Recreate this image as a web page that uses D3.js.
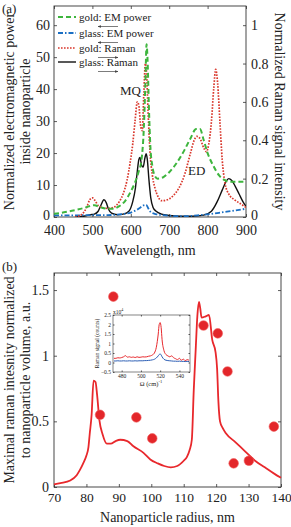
<!DOCTYPE html>
<html><head><meta charset="utf-8">
<script src="https://cdn.jsdelivr.net/npm/d3@7/dist/d3.min.js"></script>
<style>
body{margin:0;background:#fff}
text{font-family:"Liberation Serif","Times New Roman",serif;fill:#222}
</style>
</head><body>
<svg id="c" width="291" height="527"></svg>
<script>
// ---------- Panel (a) data ----------
const wlTicks = [400, 500, 600, 700, 800, 900];
const emTicks = [0, 10, 20, 30, 40, 50, 60];
const ramanTicks = [0, 0.2, 0.4, 0.6, 0.8, 1];

const wlGoldEM = [400,420,440,460,480,495,505,520,540,555,570,585,600,610,620,628,634,638,641,644,647,651,656,662,670,685,700,720,740,755,770,780,790,800,815,830,845,860,880,900];
const goldEM   = [1.0,1.3,1.8,2.3,2.9,3.5,3.7,3.1,2.6,2.6,3.4,5.0,8.0,10.5,14,18,28,42,54,48,35,22,16,13,12,12.5,14,17,21,24.5,27.5,27.5,24,20,16,13,11.5,11,11,11];

const wlGlassEM = [400,450,500,540,570,600,615,625,632,640,645,652,665,690,720,750,780,810,840,870,900];
const glassEM   = [0.5,0.5,0.6,0.6,0.8,1.4,2.2,3.0,3.6,3.8,2.8,1.5,0.9,0.5,0.25,0.3,0.6,1.0,1.5,2.0,2.6];

const wlGoldRaman = [455,470,485,493,500,507,515,525,540,555,570,580,590,598,605,611,617,621,626,630,634,638,641,645,650,656,663,670,680,695,710,725,740,755,765,772,780,790,797,803,810,816,821,826,832,838,845,855,870,885,900];
const goldRaman   = [0,0.01,0.05,0.09,0.1,0.085,0.06,0.05,0.045,0.05,0.08,0.12,0.19,0.28,0.38,0.5,0.6,0.58,0.47,0.45,0.65,0.8,0.75,0.55,0.34,0.22,0.15,0.11,0.085,0.09,0.11,0.15,0.22,0.33,0.4,0.42,0.41,0.36,0.34,0.38,0.5,0.67,0.77,0.7,0.5,0.3,0.18,0.12,0.09,0.07,0.05];

const wlGlassRaman = [455,480,495,505,515,522,530,536,542,550,565,580,595,605,612,617,621,624,628,632,637,640,643,647,652,658,666,680,700,730,760,790,810,825,838,848,855,863,872,882,892,900];
const glassRaman   = [0,0.005,0.012,0.015,0.03,0.06,0.09,0.075,0.04,0.02,0.012,0.015,0.03,0.08,0.15,0.24,0.3,0.31,0.27,0.26,0.31,0.33,0.3,0.2,0.1,0.05,0.03,0.015,0.008,0.004,0.004,0.01,0.03,0.08,0.14,0.185,0.2,0.19,0.16,0.12,0.08,0.055];

// ---------- Panel (b) data ----------
const radiusTicks = [70, 80, 90, 100, 110, 120, 130, 140];
const intensityTicks = [0, 0.5, 1, 1.5];
const radiusCurve = [70,72,75,77,78,79,80,80.6,81,81.6,82.2,82.8,83.3,84,85,86.3,87.5,89,90.4,92.6,94.5,97.6,99.7,102,104,106,108,110,111,111.8,112.5,113.1,113.7,114.2,114.7,115.1,115.5,116.8,117.8,118.8,119.8,120.3,120.7,121.2,122,123,126,129,132,135,138,140];
const intensityCurve = [0.02,0.03,0.05,0.09,0.13,0.18,0.24,0.3,0.4,0.55,0.81,0.8,0.7,0.51,0.4,0.33,0.33,0.35,0.36,0.35,0.31,0.26,0.21,0.18,0.16,0.15,0.16,0.2,0.23,0.28,0.36,0.74,1.05,1.3,1.41,1.36,1.29,1.3,1.31,1.12,1.03,0.9,0.65,0.5,0.45,0.41,0.34,0.27,0.2,0.15,0.1,0.07];
const radiusDots = [84.2, 88.3, 95.4, 100.3, 116.1, 120.5, 123.5, 125.4, 130.1, 137.8];
const intensityDots = [0.55, 1.45, 0.53, 0.37, 1.23, 1.17, 0.88, 0.18, 0.2, 0.46];

// ---------- Inset data ----------
const shiftTicks = [480, 500, 520, 540];
const countTicks = [-0.5, 0, 0.5, 1, 1.5, 2, 2.5];
const shift = [472,474,476,478,480,482,484,486,488,490,492,494,496,498,500,502,504,506,508,510,512,514,516,518,519,520,521,522,524,526,528,530,532,534,536,538,540,542,544,546,548,550];
const countsGold = [0.22,0.22,0.25,0.24,0.26,0.3,0.36,0.28,0.3,0.27,0.29,0.26,0.3,0.27,0.28,0.3,0.29,0.3,0.33,0.35,0.4,0.5,0.8,1.5,2.0,2.1,1.85,1.2,0.62,0.42,0.35,0.3,0.35,0.25,0.2,0.15,0.22,0.12,0.18,0.1,0.15,0.12];
const countsGlass = [0.08,0.08,0.09,0.08,0.08,0.09,0.08,0.08,0.09,0.08,0.08,0.09,0.08,0.09,0.09,0.09,0.1,0.1,0.11,0.12,0.14,0.17,0.24,0.35,0.42,0.45,0.4,0.3,0.17,0.12,0.1,0.09,0.08,0.07,0.07,0.06,0.07,0.06,0.06,0.05,0.06,0.05];

// ---------- Drawing ----------
const svg = d3.select("#c");
const zip = (xs, ys) => xs.map((x, i) => [x, ys[i]]);
const axisColor = "#333";

function styleAxis(g, fs) {
  g.select(".domain").remove();
  g.selectAll(".tick line").attr("stroke", axisColor).attr("stroke-width", 0.8);
  g.selectAll(".tick text").attr("font-size", fs).attr("fill", "#222")
    .attr("font-family", '"Liberation Serif","Times New Roman",serif');
}
// lift the lowest y-tick label a little so it clears the x-tick labels
function liftZero(g) {
  g.selectAll(".tick text").filter(d => d === 0).attr("dy", "0.2em");
}

// ===== Panel (a) =====
const A = {l: 54, r: 246, t: 6, b: 217};
const xA = d3.scaleLinear().domain([400, 900]).range([A.l, A.r]);
const yL = d3.scaleLinear().domain([0, 66]).range([A.b, A.t]);
const yR = d3.scaleLinear().domain([0, 1.1]).range([A.b, A.t]);

svg.append("g").attr("transform", `translate(0,${A.b})`)
  .call(d3.axisBottom(xA).tickValues(wlTicks).tickSize(-3).tickPadding(8))
  .call(g => styleAxis(g, 14));
svg.append("g").attr("transform", `translate(0,${A.t})`)
  .call(d3.axisTop(xA).tickValues(wlTicks).tickSize(-3).tickFormat(""))
  .call(g => styleAxis(g, 14));
svg.append("g").attr("transform", `translate(${A.l},0)`)
  .call(d3.axisLeft(yL).tickValues(emTicks).tickSize(-3).tickPadding(4))
  .call(g => styleAxis(g, 14)).call(liftZero);
svg.append("g").attr("transform", `translate(${A.r},0)`)
  .call(d3.axisRight(yR).tickValues(ramanTicks).tickSize(-3).tickPadding(5).tickFormat(d => d3.format("~g")(d)))
  .call(g => styleAxis(g, 14)).call(liftZero);

svg.append("rect").attr("x", A.l).attr("y", A.t).attr("width", A.r - A.l).attr("height", A.b - A.t)
  .attr("fill", "none").attr("stroke", axisColor).attr("stroke-width", 0.9);

svg.append("clipPath").attr("id", "clipA").append("rect")
  .attr("x", A.l).attr("y", A.t).attr("width", A.r - A.l).attr("height", A.b - A.t);

const lineL = d3.line().x(d => xA(d[0])).y(d => yL(d[1])).curve(d3.curveMonotoneX);
const lineR = d3.line().x(d => xA(d[0])).y(d => yR(d[1])).curve(d3.curveMonotoneX);

const gA = svg.append("g").attr("clip-path", "url(#clipA)");
const green = "#3db53d", blue = "#1a6fc4", redDot = "#d9362b";

gA.append("path").attr("d", lineR(zip(wlGlassRaman, glassRaman)))
  .attr("fill", "none").attr("stroke", "#111").attr("stroke-width", 1.4);
gA.append("path").attr("d", lineL(zip(wlGlassEM, glassEM)))
  .attr("fill", "none").attr("stroke", blue).attr("stroke-width", 1.8).attr("stroke-dasharray", "5,2,1.5,2");
gA.append("path").attr("d", lineR(zip(wlGoldRaman, goldRaman)))
  .attr("fill", "none").attr("stroke", redDot).attr("stroke-width", 1.7).attr("stroke-dasharray", "1.6,1.4");
gA.append("path").attr("d", lineL(zip(wlGoldEM, goldEM)))
  .attr("fill", "none").attr("stroke", green).attr("stroke-width", 2).attr("stroke-dasharray", "5,3");

// Legend
const legend = [
  {label: "gold: EM power", color: green, dash: "5,3", w: 2, y: 17, dir: -1},
  {label: "glass: EM power", color: blue, dash: "5,2,1.5,2", w: 1.8, y: 33, dir: -1},
  {label: "gold: Raman", color: redDot, dash: "1.6,1.4", w: 1.7, y: 48, dir: 1},
  {label: "glass: Raman", color: "#111", dash: null, w: 1.4, y: 62, dir: 1}
];
svg.append("defs").append("marker").attr("id", "ah").attr("viewBox", "0 0 10 10")
  .attr("refX", 9).attr("refY", 5).attr("markerWidth", 5).attr("markerHeight", 5)
  .attr("orient", "auto-start-reverse")
  .append("path").attr("d", "M0,1 L10,5 L0,9 z").attr("fill", "#444");
legend.forEach(d => {
  svg.append("line").attr("x1", 58).attr("x2", 76).attr("y1", d.y).attr("y2", d.y)
    .attr("stroke", d.color).attr("stroke-width", d.w).attr("stroke-dasharray", d.dash);
  svg.append("text").attr("x", 79).attr("y", d.y + 3.5).attr("font-size", 11).text(d.label);
  const ay = d.y + 9.5;
  const ln = svg.append("line").attr("y1", ay).attr("y2", ay).attr("stroke", "#444").attr("stroke-width", 0.7);
  if (d.dir < 0) ln.attr("x1", 118).attr("x2", 98).attr("marker-end", "url(#ah)");
  else ln.attr("x1", 98).attr("x2", 118).attr("marker-end", "url(#ah)");
});

svg.append("text").attr("x", 120).attr("y", 95).attr("font-size", 13).text("MQ");
svg.append("text").attr("x", 188).attr("y", 175).attr("font-size", 13).text("ED");

svg.append("text").attr("x", 2).attr("y", 13).attr("font-size", 13).text("(a)");
svg.append("text").attr("x", (A.l + A.r) / 2).attr("y", 255).attr("text-anchor", "middle").attr("font-size", 14).text("Wavelength, nm");
svg.append("text").attr("transform", `translate(14,${(A.t + A.b) / 2}) rotate(-90)`).attr("text-anchor", "middle").attr("font-size", 14).text("Normalized electromagnetic power");
svg.append("text").attr("transform", `translate(30,${(A.t + A.b) / 2}) rotate(-90)`).attr("text-anchor", "middle").attr("font-size", 14).text("inside nanoparticle");
svg.append("text").attr("transform", `translate(275,${(A.t + A.b) / 2}) rotate(90)`).attr("text-anchor", "middle").attr("font-size", 14).text("Normalized Raman signal intensity");

// ===== Panel (b) =====
const B = {l: 54, r: 281, t: 273, b: 487};
const xB = d3.scaleLinear().domain([70, 140]).range([B.l, B.r]);
const yB = d3.scaleLinear().domain([0, 1.63]).range([B.b, B.t]);

svg.append("g").attr("transform", `translate(0,${B.b})`)
  .call(d3.axisBottom(xB).tickValues(radiusTicks).tickSize(-3).tickPadding(5))
  .call(g => styleAxis(g, 13.5));
svg.append("g").attr("transform", `translate(0,${B.t})`)
  .call(d3.axisTop(xB).tickValues(radiusTicks).tickSize(-3).tickFormat(""))
  .call(g => styleAxis(g, 14));
svg.append("g").attr("transform", `translate(${B.l},0)`)
  .call(d3.axisLeft(yB).tickValues(intensityTicks).tickSize(-3).tickPadding(5).tickFormat(d => d3.format("~g")(d)))
  .call(g => styleAxis(g, 14));
svg.append("g").attr("transform", `translate(${B.r},0)`)
  .call(d3.axisRight(yB).tickValues(intensityTicks).tickSize(-3).tickFormat(""))
  .call(g => styleAxis(g, 14));
svg.append("rect").attr("x", B.l).attr("y", B.t).attr("width", B.r - B.l).attr("height", B.b - B.t)
  .attr("fill", "none").attr("stroke", axisColor).attr("stroke-width", 0.9);

const redB = "#e8282c";
const lineB = d3.line().x(d => xB(d[0])).y(d => yB(d[1])).curve(d3.curveMonotoneX);
svg.append("path").attr("d", lineB(zip(radiusCurve, intensityCurve)))
  .attr("fill", "none").attr("stroke", redB).attr("stroke-width", 1.8);
svg.append("g").selectAll("circle").data(zip(radiusDots, intensityDots)).join("circle")
  .attr("cx", d => xB(d[0])).attr("cy", d => yB(d[1])).attr("r", 4.8)
  .attr("fill", "#e3262a").attr("stroke", "#f05a5a").attr("stroke-width", 0.6);

svg.append("text").attr("x", 2).attr("y", 271).attr("font-size", 13).text("(b)");
svg.append("text").attr("x", (B.l + B.r) / 2).attr("y", 522).attr("text-anchor", "middle").attr("font-size", 14).text("Nanoparticle radius, nm");
svg.append("text").attr("transform", `translate(14,${(B.t + B.b) / 2}) rotate(-90)`).attr("text-anchor", "middle").attr("font-size", 14).text("Maximal raman intesnity normalized");
svg.append("text").attr("transform", `translate(30,${(B.t + B.b) / 2}) rotate(-90)`).attr("text-anchor", "middle").attr("font-size", 14).text("to nanoparticle volume, a.u.");

// ===== Inset =====
const I = {l: 113, r: 190, t: 315, b: 372};
const xI = d3.scaleLinear().domain([471, 551]).range([I.l, I.r]);
const yI = d3.scaleLinear().domain([-0.5, 2.5]).range([I.b, I.t]);
svg.append("rect").attr("x", I.l).attr("y", I.t).attr("width", I.r - I.l).attr("height", I.b - I.t).attr("fill", "#fff");
svg.append("g").attr("transform", `translate(0,${I.b})`)
  .call(d3.axisBottom(xI).tickValues(shiftTicks).tickSize(-1.5).tickPadding(2))
  .call(g => styleAxis(g, 5.5));
svg.append("g").attr("transform", `translate(0,${I.t})`)
  .call(d3.axisTop(xI).tickValues(shiftTicks).tickSize(-1.5).tickFormat(""))
  .call(g => styleAxis(g, 5.5));
svg.append("g").attr("transform", `translate(${I.l},0)`)
  .call(d3.axisLeft(yI).tickValues(countTicks).tickSize(-1.5).tickPadding(2).tickFormat(d => d3.format("~g")(d)))
  .call(g => styleAxis(g, 5.5));
svg.append("g").attr("transform", `translate(${I.r},0)`)
  .call(d3.axisRight(yI).tickValues(countTicks).tickSize(-1.5).tickFormat(""))
  .call(g => styleAxis(g, 5.5));
svg.append("rect").attr("x", I.l).attr("y", I.t).attr("width", I.r - I.l).attr("height", I.b - I.t)
  .attr("fill", "none").attr("stroke", axisColor).attr("stroke-width", 0.6);
const lineI = d3.line().x(d => xI(d[0])).y(d => yI(d[1])).curve(d3.curveMonotoneX);
svg.append("path").attr("d", lineI(zip(shift, countsGlass))).attr("fill", "none").attr("stroke", "#2d5fb5").attr("stroke-width", 1);
svg.append("path").attr("d", lineI(zip(shift, countsGold))).attr("fill", "none").attr("stroke", "#e8282c").attr("stroke-width", 1);

const x10 = svg.append("text").attr("x", I.l).attr("y", I.t - 1.5).attr("font-size", 5.5);
x10.append("tspan").text("x10");
x10.append("tspan").attr("dy", -2.5).attr("font-size", 4).text("4");
svg.append("text").attr("transform", `translate(99,${(I.t + I.b) / 2}) rotate(-90)`).attr("text-anchor", "middle").attr("font-size", 5.5).text("Raman signal (counts)");
const om = svg.append("text").attr("x", 151).attr("y", 386).attr("text-anchor", "middle").attr("font-size", 6.5);
om.append("tspan").text("Ω (cm)");
om.append("tspan").attr("dy", -3).attr("font-size", 4.5).text("-1");
</script>
</body></html>
